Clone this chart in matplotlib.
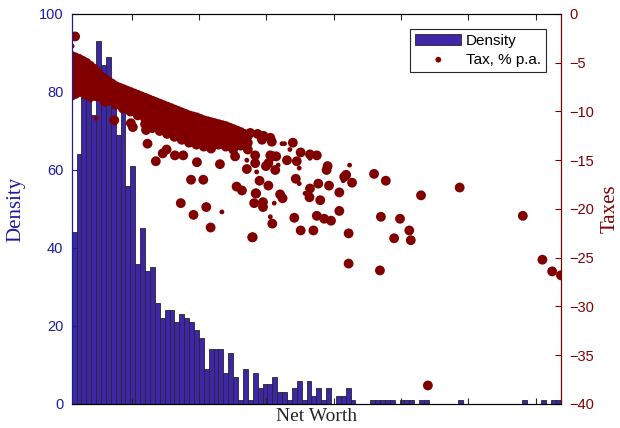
import numpy as np
import matplotlib.pyplot as plt

# histogram of net worth (100 equal bins across the axis), density per bin
density = [44, 64, 81, 79, 74, 93, 87, 89, 77, 69,
           75, 56, 61, 36, 45, 34, 35, 26, 22, 24,
           24, 21, 23, 22, 21, 19, 17, 9, 14, 14,
           14, 8, 13, 7, 1, 9, 1, 8, 4, 5,
           5, 7, 3, 3, 1, 4, 6, 1, 6, 2,
           4, 1, 4, 0, 2, 2, 4, 1, 0, 0,
           0, 1, 1, 1, 1, 1, 0, 1, 1, 1,
           0, 1, 1, 0, 0, 0, 0, 0, 0, 1,
           0, 0, 0, 0, 0, 0, 0, 0, 0, 0,
           0, 0, 1, 0, 0, 0, 1, 0, 1, 1]

# dense band of tax rates: net worth (bin units) -> tax rates, % p.a.
band_cols = {
    0.0: [-4.3, -5.0, -5.7, -6.4, -7.1, -7.8, -8.2],
    0.75: [-4.45, -5.5, -6.2, -6.9, -7.6, -8.2],
    1.5: [-4.6, -5.3, -6.0, -6.7, -7.4, -8.0],
    2.25: [-4.8, -5.85, -6.55, -7.25, -7.95],
    3.0: [-5.0, -5.7, -6.4, -7.1, -7.8, -8.3],
    3.75: [-5.3, -6.35, -7.05, -7.75, -8.4],
    4.5: [-5.6, -6.3, -7.0, -7.7, -8.4],
    5.25: [-6.0, -7.05, -7.75, -8.45],
    6.0: [-6.4, -7.1, -7.8, -8.5],
    6.75: [-6.65, -7.7, -8.4, -9.0],
    7.5: [-6.9, -7.6, -8.3, -8.9],
    8.25: [-7.15, -8.2, -8.9],
    9.0: [-7.4, -8.1, -8.8, -9.3],
    9.75: [-7.55, -8.6, -9.3],
    10.5: [-7.7, -8.4, -9.1, -9.7],
    11.25: [-7.85, -8.9, -9.6],
    12.0: [-8.0, -8.7, -9.4, -10.0],
    12.75: [-8.15, -9.2, -9.9],
    13.5: [-8.3, -9.0, -9.7, -10.4],
    14.25: [-8.45, -9.5, -10.2],
    15.0: [-8.6, -9.3, -10.0, -10.7, -11.3],
    15.75: [-8.75, -9.8, -10.5, -11.2],
    16.5: [-8.9, -9.6, -10.3, -11.0, -11.7],
    17.25: [-9.05, -10.1, -10.8, -11.5],
    18.0: [-9.2, -9.9, -10.6, -11.3, -12.0],
    18.75: [-9.35, -10.4, -11.1, -11.8],
    19.5: [-9.5, -10.2, -10.9, -11.6, -12.3],
    20.25: [-9.65, -10.7, -11.4, -12.1],
    21.0: [-9.8, -10.5, -11.2, -11.9, -12.6],
    21.75: [-9.95, -11.0, -11.7, -12.4],
    22.5: [-10.1, -10.8, -11.5, -12.2, -12.9],
    23.25: [-10.25, -11.3, -12.0, -12.7],
    24.0: [-10.4, -11.1, -11.8, -12.5, -13.2],
    24.75: [-10.5, -11.55, -12.25, -12.95],
    25.5: [-10.6, -11.3, -12.0, -12.7, -13.4],
    26.25: [-10.75, -11.8, -12.5, -13.2],
    27.0: [-10.9, -11.6, -12.3, -13.0, -13.6],
    27.75: [-11.0, -12.05, -12.75, -13.45],
    28.5: [-11.1, -11.8, -12.5, -13.2, -13.8],
    29.25: [-11.2, -12.25, -12.95],
    30.0: [-11.3, -12.0, -12.7, -13.4],
    30.75: [-11.4, -12.45, -13.15],
    31.5: [-11.5, -12.2, -12.9, -13.6],
    32.25: [-11.65, -12.7, -13.4],
    33.0: [-11.8, -12.5, -13.2, -13.9],
    33.75: [-11.95, -13.0],
    34.5: [-12.1, -12.8, -13.5],
    35.25: [-12.3, -13.35],
    36.0: [-12.5, -13.2, -13.9],
}

# scattered households: net worth, tax, marker size class
out_x = [0.7, 0.1, 0.3, 8.7, 12.1, 15.2, 12.5, 15.5, 17.2, 18.6,
         19.4, 21.1, 22.8, 25.6, 30.3, 33.4, 35.4, 36.5, 37.5, 35.8,
         35.8, 24.4, 26.9, 22.3, 24.9, 27.5, 30.7, 28.4, 33.7, 34.8,
         37.6, 37.3, 36.9, 3.9, 1.9, 5.0, 0.1,
         38.0, 38.9, 40.9, 43.0, 43.5, 45.2, 44.6, 37.5, 40.6, 41.2,
         41.8, 40.2, 39.7, 42.2, 44.0, 46.0, 46.8, 48.7, 50.1, 48.7,
         46.5, 41.6, 37.8, 52.3, 52.1, 56.8, 38.4, 40.2, 45.8, 46.5,
         48.7, 50.4, 52.6, 55.7, 56.1, 55.5, 57.3, 61.8, 64.2, 79.3,
         37.7, 42.6, 43.1, 47.7, 48.6, 50.8, 54.7, 71.4, 39.1, 39.1,
         41.4, 45.5, 40.6, 41.0, 50.1, 51.6, 53.0, 54.7, 46.8, 49.4,
         56.6, 63.2, 67.1, 69.0, 65.9, 69.3, 37.0, 92.2, 56.6, 63.0,
         96.2, 98.2, 100.0, 72.8, 39.2, 38.9, 40.6]
out_tax = [-2.3, -3.3, -4.4, -10.9, -11.2, -11.9, -11.6, -13.3, -15.1, -14.3,
           -13.9, -14.5, -14.5, -15.2, -15.4, -14.6, -13.4, -12.2, -15.3, -15.9,
           -15.0, -17.0, -17.0, -19.4, -20.6, -19.8, -20.3, -21.9, -17.7, -18.1,
           -18.4, -19.4, -22.9, -8.8, -8.1, -10.7, -8.5,
           -12.3, -12.6, -13.1, -13.3, -13.3, -13.2, -13.9, -14.5, -14.5, -14.6,
           -14.6, -15.3, -15.6, -15.5, -15.0, -15.1, -14.2, -14.4, -14.5, -14.8,
           -15.8, -16.0, -16.2, -15.6, -16.0, -15.5, -17.1, -17.6, -16.9, -17.4,
           -17.9, -17.4, -17.6, -16.7, -16.5, -17.1, -17.3, -16.4, -17.1, -17.8,
           -18.4, -18.5, -18.9, -18.4, -18.8, -19.1, -18.3, -18.6, -19.3, -19.8,
           -19.4, -20.9, -20.8, -21.5, -20.7, -21.0, -21.2, -20.2, -22.2, -22.2,
           -22.5, -20.8, -21.0, -22.2, -23.0, -23.2, -22.9, -20.7, -25.6, -26.3,
           -25.2, -26.4, -26.8, -38.1, -12.5, -12.9, -12.7]
out_cls = ['b', 's', 'm', 'b', 'b', 'b', 'b', 'b', 'b', 'b',
           'b', 'b', 'b', 'b', 'b', 'b', 'b', 'b', 'b', 'b',
           's', 'b', 'b', 'b', 'b', 'b', 's', 'b', 'b', 'b',
           'b', 'b', 'b', 's', 'm', 's', 'm',
           'b', 'b', 'b', 's', 's', 'b', 's', 'b', 'b', 'b',
           'b', 'b', 'b', 's', 'b', 'b', 'b', 'b', 'b', 's',
           's', 'b', 's', 'b', 'b', 's', 'b', 'b', 'b', 's',
           'b', 'b', 'b', 'b', 'b', 's', 'b', 'b', 'b', 'b',
           'b', 'b', 'b', 's', 'b', 'b', 'b', 'b', 'b', 'b',
           's', 'b', 's', 'b', 'b', 'b', 'b', 'b', 'b', 'b',
           'b', 'b', 'b', 'b', 'b', 'b', 'b', 'b', 'b', 'b',
           'b', 'b', 'b', 'b', 'b', 'b', 'b']

xtick_pos = [12.27, 26.03, 39.80, 53.56, 67.32, 81.08, 94.85]

blue = '#1c1c9e'
red = '#800000'
bar_color = '#3d26a8'
size_map = {'b': 50, 'm': 28, 's': 12}

band_x = [x for x, taxes in band_cols.items() for _ in taxes]
band_tax = [t for taxes in band_cols.values() for t in taxes]

plt.rcParams['font.family'] = ['Liberation Sans', 'DejaVu Sans']

fig = plt.figure(figsize=(6.2, 4.28), dpi=100)
ax = fig.add_axes([0.1156, 0.0561, 0.7892, 0.9112])

bars = ax.bar(np.arange(len(density)), density, width=1, align='edge',
              color=bar_color, edgecolor='#262626', linewidth=0.6, label='Density')
ax.set_xlim(0, 100)
ax.set_ylim(0, 100)
ax.set_yticks(range(0, 101, 20))
ax.set_xticks(xtick_pos)
ax.set_xticklabels([])
ax.tick_params(axis='y', colors=blue, direction='in', length=4, labelsize=10.5, pad=6)
ax.tick_params(axis='x', direction='in', length=4, top=True, color='#262626')
ax.spines['left'].set_color(blue)
ax.spines['top'].set_color('#262626')
ax.spines['bottom'].set_color('#262626')
ax.set_ylabel('Density', family='Liberation Serif', fontsize=15, color=blue)
ax.yaxis.set_label_coords(-0.095, 0.5)
ax.set_xlabel('Net Worth', family='Liberation Serif', fontsize=14, color='#262626')
ax.xaxis.set_label_coords(0.5, -0.01)

ax2 = ax.twinx()
ax2.scatter(band_x, band_tax, s=size_map['b'], color=red, edgecolors='none')
pts = ax2.scatter(out_x, out_tax, s=[size_map[c] for c in out_cls], color=red,
                  edgecolors='none', label='Tax, % p.a.')
ax2.set_ylim(-40, 0)
ax2.set_yticks(range(-40, 1, 5))
ax2.tick_params(axis='y', colors=red, direction='in', length=4, labelsize=10.5, pad=6)
ax2.spines['right'].set_color(red)
ax2.spines['left'].set_color(blue)
ax2.set_ylabel('Taxes', family='Liberation Serif', fontsize=15, color=red)
ax2.yaxis.set_label_coords(1.082, 0.5)

leg = ax2.legend([bars, pts], ['Density', 'Tax, % p.a.'], loc='upper right',
                 bbox_to_anchor=(0.976, 0.97), fontsize=11, fancybox=False,
                 framealpha=1, edgecolor='#262626', handlelength=3.0,
                 borderaxespad=0.2, markerscale=0.75, handletextpad=0.3,
                 borderpad=0.35, labelspacing=0.3)
leg.get_frame().set_linewidth(0.8)

fig.savefig('out.png', dpi=100)
